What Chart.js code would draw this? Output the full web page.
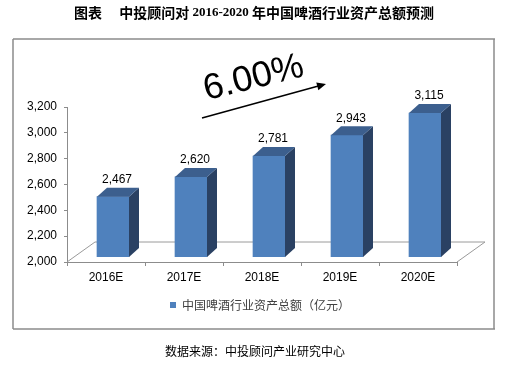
<!DOCTYPE html>
<html>
<head>
<meta charset="utf-8">
<script src="https://cdn.jsdelivr.net/npm/chart.js@4"></script>
<style>
  body { margin: 0; background: #fff; }
  #wrap { width: 511px; height: 366px; }
</style>
</head>
<body>
<div id="wrap"><canvas id="assetChart" width="511" height="366"></canvas></div>
<script>
// ========== DATA ========== //
const years = ["2016E", "2017E", "2018E", "2019E", "2020E"];
const assetTotals = [2467, 2620, 2781, 2943, 3115];
const seriesName = "中国啤酒行业资产总额（亿元）";
const growthLabel = "6.00%";
const sourceText = "数据来源：中投顾问产业研究中心";

// 3D look: bars sit a bit back from the front edge of the floor
const shiftX = 7, shiftY = -5;
const depthX = 10, depthY = -9;

const decorPlugin = {
    id: "decor",
    beforeDraw(chart) {
        const c = chart.ctx;
        c.save();
        c.fillStyle = "#fff";
        c.fillRect(0, 0, chart.width, chart.height);

        // title, mixed fonts
        const parts = [
            ["图表　 中投顾问对 ", "bold 14px 'Noto Sans CJK SC'"],
            ["2016-2020", "bold 13px 'Liberation Serif'"],
            [" 年中国啤酒行业资产总额预测", "bold 14px 'Noto Sans CJK SC'"]
        ];
        let total = 0;
        parts.forEach(p => { c.font = p[1]; total += c.measureText(p[0]).width; });
        let x = 254 - total / 2;
        c.fillStyle = "#000";
        c.textBaseline = "middle";
        parts.forEach(p => {
            c.font = p[1];
            c.fillText(p[0], x, 13);
            x += c.measureText(p[0]).width;
        });

        // frame
        c.strokeStyle = "#8c8c8c";
        c.lineWidth = 1.5;
        c.beginPath();
        c.moveTo(13, 39); c.lineTo(495, 39);
        c.moveTo(13, 39); c.lineTo(13, 329);
        c.moveTo(494, 39); c.lineTo(494, 329);
        c.moveTo(13, 329); c.lineTo(495, 329);
        c.stroke();

        // legend
        c.fillStyle = "#4F81BD";
        c.fillRect(170, 302, 6, 6);
        c.fillStyle = "#404040";
        c.font = "12px 'Noto Sans CJK SC'";
        c.textAlign = "left";
        c.fillText(seriesName, 182, 305);

        // source
        c.fillStyle = "#000";
        c.fillText(sourceText, 165, 351);
        c.restore();
    },
    beforeDatasetsDraw(chart) {
        const c = chart.ctx;
        const a = chart.chartArea;
        // floor
        c.save();
        c.strokeStyle = "#9a9a9a";
        c.lineWidth = 1;
        c.beginPath();
        c.moveTo(a.left, a.bottom);
        c.lineTo(a.left + 28, a.bottom - 20);
        c.lineTo(a.right + 28, a.bottom - 20);
        c.lineTo(a.right, a.bottom);
        c.stroke();
        c.restore();
        c.save();
        c.translate(shiftX, shiftY);
    },
    afterDatasetsDraw(chart) {
        const c = chart.ctx;
        const meta = chart.getDatasetMeta(0);
        const floorY = chart.chartArea.bottom;
        meta.data.forEach((bar, i) => {
            const half = bar.width / 2;
            const l = bar.x - half, r = bar.x + half;
            const base = Math.min(bar.base, floorY);
            // side
            c.fillStyle = "#2A4163";
            c.beginPath();
            c.moveTo(r, bar.y);
            c.lineTo(r + depthX, bar.y + depthY);
            c.lineTo(r + depthX, base + depthY);
            c.lineTo(r, base);
            c.closePath();
            c.fill();
            // top
            c.fillStyle = "#3C5F8E";
            c.beginPath();
            c.moveTo(l, bar.y);
            c.lineTo(l + depthX, bar.y + depthY);
            c.lineTo(r + depthX, bar.y + depthY);
            c.lineTo(r, bar.y);
            c.closePath();
            c.fill();
            // value label
            c.fillStyle = "#000";
            c.font = "12px 'Liberation Sans'";
            c.textAlign = "center";
            c.textBaseline = "middle";
            c.fillText(assetTotals[i].toLocaleString("en-US"), bar.x + 4, bar.y - 17);
        });
        c.restore();

        // growth annotation
        c.save();
        c.translate(256, 88);
        c.rotate(-14 * Math.PI / 180);
        c.fillStyle = "#000";
        c.font = "36px 'Liberation Sans'";
        c.textAlign = "center";
        c.textBaseline = "alphabetic";
        c.fillText(growthLabel, 0, 0);
        c.restore();

        c.save();
        c.strokeStyle = "#000";
        c.fillStyle = "#000";
        c.lineWidth = 1.5;
        const x1 = 202, y1 = 118, x2 = 326, y2 = 84;
        const ang = Math.atan2(y2 - y1, x2 - x1);
        c.beginPath();
        c.moveTo(x1, y1);
        c.lineTo(x2 - 6 * Math.cos(ang), y2 - 6 * Math.sin(ang));
        c.stroke();
        c.beginPath();
        c.moveTo(x2, y2);
        c.lineTo(x2 - 9 * Math.cos(ang) + 4 * Math.sin(ang), y2 - 9 * Math.sin(ang) - 4 * Math.cos(ang));
        c.lineTo(x2 - 9 * Math.cos(ang) - 4 * Math.sin(ang), y2 - 9 * Math.sin(ang) + 4 * Math.cos(ang));
        c.closePath();
        c.fill();
        c.restore();
    }
};

// ========== CHART ========== //
const ctx = document.getElementById("assetChart");
new Chart(ctx, {
    type: "bar",
    data: {
        labels: years,
        datasets: [{
            label: seriesName,
            data: assetTotals,
            backgroundColor: "#4F81BD",
            borderWidth: 0,
            barThickness: 32
        }]
    },
    options: {
        responsive: false,
        animation: false,
        locale: "en-US",
        layout: { padding: { left: 13, right: 54, top: 107, bottom: 74 } },
        plugins: {
            legend: { display: false },
            title: { display: false },
            tooltip: { enabled: false }
        },
        scales: {
            x: {
                afterFit: s => { s.height = 30; },
                grid: { drawOnChartArea: false, tickLength: 4, color: "#8c8c8c" },
                border: { color: "#8c8c8c" },
                ticks: { color: "#000", padding: 4, font: { family: "'Liberation Sans'", size: 12 } }
            },
            y: {
                min: 2000,
                max: 3200,
                afterFit: s => { s.width = 54; },
                grid: { drawOnChartArea: false, tickLength: 3, color: "#8c8c8c" },
                border: { color: "#8c8c8c" },
                ticks: { stepSize: 200, color: "#000", padding: 7, font: { family: "'Liberation Sans'", size: 12 } }
            }
        }
    },
    plugins: [decorPlugin]
});
</script>
</body>
</html>
